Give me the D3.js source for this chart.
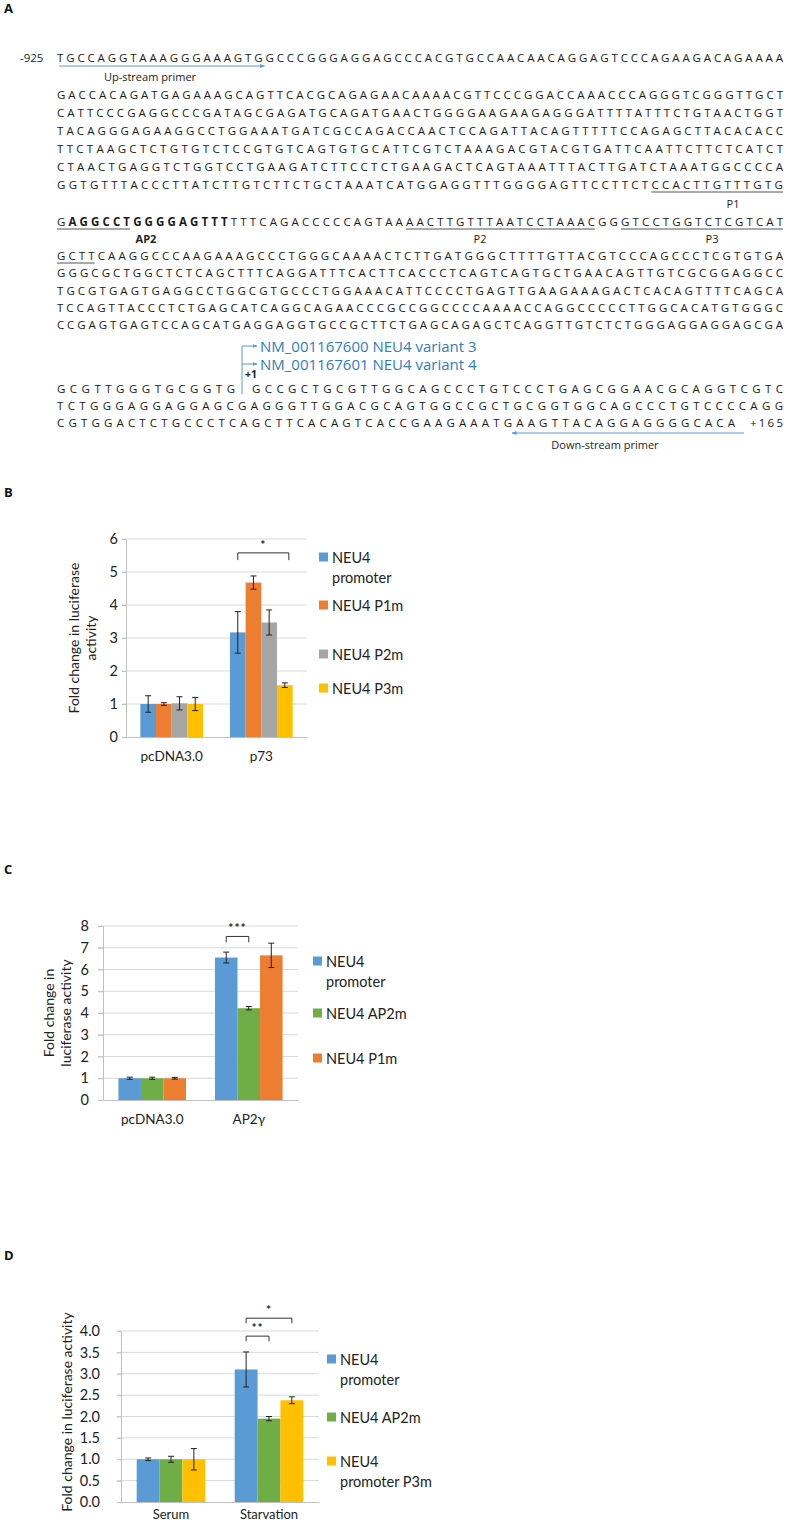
<!DOCTYPE html>
<html><head><meta charset="utf-8">
<script src="https://cdn.jsdelivr.net/npm/d3@7"></script>
<style>body{margin:0;background:#fff}svg{display:block}</style>
</head><body>
<svg id="fig" width="791" height="1527"></svg>
<script>
// ---------------- DATA ----------------
const seqLines = [
  "TGCCAGGTAAAGGGAAAGTGGCCCGGGAGGAGCCCACGTGCCAACAACAGGAGTCCCAGAAGACAGAAAA",
  "GACCACAGATGAGAAAGCAGTTCACGCAGAGAACAAAACGTTCCCGGACCAAACCCAGGGTCGGGTTGCT",
  "CATTCCCGAGGCCCGATAGCGAGATGCAGATGAACTGGGGAAGAAGAGGGATTTTATTTCTGTAACTGGT",
  "TACAGGGAGAAGGCCTGGAAATGATCGCCAGACCAACTCCAGATTACAGTTTTTCCAGAGCTTACACACC",
  "TTCTAAGCTCTGTGTCTCCGTGTCAGTGTGCATTCGTCTAAAGACGTACGTGATTCAATTCTTCTCATCT",
  "CTAACTGAGGTCTGGTCCTGAAGATCTTCCTCTGAAGACTCAGTAAATTTACTTGATCTAAATGGCCCCA",
  "GGTGTTTACCCTTATCTTGTCTTCTGCTAAATCATGGAGGTTTGGGGAGTTCCTTCTCCACTTGTTTGTG",
  "GAGGCCTGGGGAGTTTTTTCAGACCCCCAGTAAAACTTGTTTAATCCTAAACGGGTCCTGGTCTCGTCAT",
  "GCTTCAAGGCCCAAGAAAGCCCTGGGCAAAACTCTTGATGGGCTTTTGTTACGTCCCAGCCCTCGTGTGA",
  "GGGCGCTGGCTCTCAGCTTTCAGGATTTCACTTCACCCTCAGTCAGTGCTGAACAGTTGTCGCGGAGGCC",
  "TGCGTGAGTGAGGCCTGGCGTGCCCTGGAAACATTCCCCTGAGTTGAAGAAAGACTCACAGTTTTCAGCA",
  "TCCAGTTACCCTCTGAGCATCAGGCAGAACCCGCCGGCCCCAAAACCAGGCCCCCTTGGCACATGTGGGC",
  "CCGAGTGAGTCCAGCATGAGGAGGTGCCGCTTCTGAGCAGAGCTCAGGTTGTCTCTGGGAGGAGGAGCGA"
];
const seqTSSLeft = "GCGTTGGGTGCGGTG";
const seqTSSRight = "GCCGCTGCGTTGGCAGCCCTGTCCCTGAGCGGAACGCAGGTCGTC";
const seqLine15 = "TCTGGGAGGAGGAGCGAGGGTTGGACGCAGTGGCCGCTGCGGTGGCAGCCCTGTCCCCAGG";
const seqLine16 = "CGTGGACTCTGCCCTCAGCTTCACAGTCACCGAAGAAATGAAGTTACAGGAGGGGCACA";
const seqStartLabel = "-925", seqEndLabel = "+165";
const transcripts = ["NM_001167600 NEU4 variant 3", "NM_001167601 NEU4 variant 4"];

const bCategories = ["pcDNA3.0", "p73"];
const bSeries = ["NEU4 promoter", "NEU4 P1m", "NEU4 P2m", "NEU4 P3m"];
const bValues = [[1.00, 1.00, 1.02, 1.00], [3.17, 4.68, 3.47, 1.57]];
const bErrors = [[0.25, 0.04, 0.20, 0.20], [0.63, 0.20, 0.38, 0.07]];
const bTicks = [0, 1, 2, 3, 4, 5, 6];

const cCategories = ["pcDNA3.0", "AP2γ"];
const cSeries = ["NEU4 promoter", "NEU4 AP2m", "NEU4 P1m"];
const cValues = [[1.00, 1.00, 1.00], [6.55, 4.22, 6.65]];
const cErrors = [[0.05, 0.05, 0.04], [0.25, 0.08, 0.56]];
const cTicks = [0, 1, 2, 3, 4, 5, 6, 7, 8];

const dCategories = ["Serum", "Starvation"];
const dSeries = ["NEU4 promoter", "NEU4 AP2m", "NEU4 promoter P3m"];
const dValues = [[1.00, 1.00, 1.00], [3.10, 1.95, 2.38]];
const dErrors = [[0.03, 0.07, 0.25], [0.41, 0.05, 0.08]];
const dTicks = [0, 0.5, 1, 1.5, 2, 2.5, 3, 3.5, 4];

// ---------------- DRAW ----------------
const svg = d3.select("#fig");
const seqFont = "'Open Sans', sans-serif";
const chartFont = "Lato, 'Open Sans', sans-serif";
const BLUE = "#5B9BD5", ORANGE = "#ED7D31", GRAY = "#A5A5A5", YELLOW = "#FFC000", GREEN = "#70AD47";
const ARROW = "#5b9bd5";
const SEQ_FS = 11.5;

const defs = svg.append("defs");
defs.append("marker").attr("id", "ah").attr("viewBox", "0 0 10 10").attr("refX", 9).attr("refY", 5)
  .attr("markerWidth", 5).attr("markerHeight", 5).attr("orient", "auto-start-reverse")
  .append("path").attr("d", "M0,1 L10,5 L0,9 z").attr("fill", ARROW);

function panelLetter(t, x, y) {
  svg.append("text").attr("x", x).attr("y", y).attr("dominant-baseline", "central")
    .attr("font-family", "'Open Sans', sans-serif").attr("font-weight", 700).attr("font-size", 13)
    .attr("fill", "#111").text(t);
}
panelLetter("A", 4, 8);
panelLetter("B", 4, 492);
panelLetter("C", 4, 869);
panelLetter("D", 4, 1255);

// Sequence panel
const X0 = 57, X1 = 783;
const lineY = [57, 94, 112, 130, 148, 166, 184, 221, 255, 272, 290, 307, 324];
function seqText(x, y, len, content) {
  const t = svg.append("text").attr("x", x).attr("y", y).attr("dominant-baseline", "central")
    .attr("font-family", seqFont).attr("font-size", SEQ_FS).attr("fill", "#1a1a1a")
    .attr("textLength", len).attr("lengthAdjust", "spacing");
  if (Array.isArray(content)) content.forEach(s => t.append("tspan").attr("font-weight", s.b ? 700 : 400).text(s.t));
  else t.text(content);
  return t;
}
function span(t, i0, i1) {
  const n = t.node();
  return [n.getStartPositionOfChar(i0).x, n.getEndPositionOfChar(i1).x];
}
function underline(t, i0, i1, y) {
  const [a, b] = span(t, i0, i1);
  svg.append("line").attr("x1", a).attr("x2", b).attr("y1", y).attr("y2", y)
    .attr("stroke", "#555").attr("stroke-width", 1);
  return (a + b) / 2;
}
function smallLabel(txt, x, y, bold) {
  svg.append("text").attr("x", x).attr("y", y).attr("text-anchor", "middle").attr("dominant-baseline", "central")
    .attr("font-family", seqFont).attr("font-size", 11).attr("font-weight", bold ? 700 : 400)
    .attr("fill", "#222").text(txt);
}

svg.append("text").attr("x", 20).attr("y", lineY[0]).attr("dominant-baseline", "central")
  .attr("font-family", seqFont).attr("font-size", SEQ_FS).attr("fill", "#1a1a1a").text(seqStartLabel);

const seqEls = seqLines.map((s, i) => {
  if (i === 7) {
    const segs = [{t: s.slice(0, 1)}, {t: s.slice(1, 16), b: true}, {t: s.slice(16)}];
    return seqText(X0, lineY[i], X1 - X0, segs);
  }
  return seqText(X0, lineY[i], X1 - X0, s);
});

// Up-stream primer arrow
{
  const [a, b] = span(seqEls[0], 0, 19);
  svg.append("line").attr("x1", a + 2).attr("x2", b + 2).attr("y1", 66).attr("y2", 66)
    .attr("stroke", ARROW).attr("stroke-width", 1).attr("marker-end", "url(#ah)");
  smallLabel("Up-stream primer", 150, 76);
}
const ul = 8;
// P1
underline(seqEls[6], 57, 69, lineY[6] + ul);
underline(seqEls[7], 0, 6, lineY[7] + ul);
smallLabel("P1", 733, 203);
// AP2
smallLabel("AP2", 146, 238, true);
// P2
underline(seqEls[7], 33, 51, lineY[7] + ul);
smallLabel("P2", 480, 238);
// P3
underline(seqEls[7], 54, 69, lineY[7] + ul);
underline(seqEls[8], 0, 3, lineY[8] + ul);
smallLabel("P3", 712, 238);

// Transcription start site
const yT1 = 346, yT2 = 364, y14 = 388, y15 = 405, y16 = 422;
seqText(X0, y14, 235 - X0, seqTSSLeft);
seqText(252, y14, X1 - 252, seqTSSRight);
svg.append("line").attr("x1", 242).attr("x2", 242).attr("y1", yT1).attr("y2", 394)
  .attr("stroke", ARROW).attr("stroke-width", 1);
[yT1, yT2].forEach((yy, i) => {
  svg.append("line").attr("x1", 242).attr("x2", 257).attr("y1", yy).attr("y2", yy)
    .attr("stroke", ARROW).attr("stroke-width", 1).attr("marker-end", "url(#ah)");
  svg.append("text").attr("x", 260).attr("y", yy).attr("dominant-baseline", "central")
    .attr("font-family", seqFont).attr("font-size", 15).attr("fill", "#2f7dc0").text(transcripts[i]);
});
svg.append("text").attr("x", 245).attr("y", 374).attr("dominant-baseline", "central")
  .attr("font-family", seqFont).attr("font-size", 10.5).attr("font-weight", 700).attr("fill", "#222").text("+1");
seqText(X0, y15, X1 - X0, seqLine15);
seqText(X0, y16, 735 - X0, seqLine16);
svg.append("text").attr("x", 750).attr("y", y16).attr("dominant-baseline", "central")
  .attr("font-family", seqFont).attr("font-size", SEQ_FS).attr("fill", "#1a1a1a")
  .attr("textLength", 33).attr("lengthAdjust", "spacing").text(seqEndLabel);
// Down-stream primer arrow
svg.append("line").attr("x1", 744).attr("x2", 512).attr("y1", 433).attr("y2", 433)
  .attr("stroke", ARROW).attr("stroke-width", 1).attr("marker-end", "url(#ah)");
smallLabel("Down-stream primer", 605, 444);

// ---------------- Bar charts ----------------
function barChart(cfg) {
  const g = svg.append("g").attr("font-family", chartFont);
  const x0 = d3.scaleBand().domain(cfg.categories).range([cfg.left, cfg.right])
    .paddingInner(0.3).paddingOuter(0.16);
  const x1 = d3.scaleBand().domain(d3.range(cfg.series.length)).range([0, x0.bandwidth()]);
  const y = d3.scaleLinear().domain([0, cfg.max]).range([cfg.y0, cfg.yTop]);

  g.append("g").selectAll("line").data(cfg.ticks.filter(t => t > 0)).join("line")
    .attr("x1", cfg.left - cfg.tickLen).attr("x2", cfg.right)
    .attr("y1", d => y(d)).attr("y2", d => y(d))
    .attr("stroke", "#d9d9d9").attr("stroke-width", 1);

  const ya = g.append("g").attr("transform", `translate(${cfg.left},0)`)
    .call(d3.axisLeft(y).tickValues(cfg.ticks).tickFormat(cfg.fmt).tickSize(cfg.tickLen).tickSizeOuter(0).tickPadding(cfg.tickPad));
  ya.select(".domain").attr("stroke", "#bfbfbf");
  ya.selectAll(".tick line").attr("stroke", "#bfbfbf");
  ya.selectAll(".tick text").attr("font-family", chartFont).attr("font-size", cfg.tickFont).attr("fill", "#222");

  const flat = [];
  cfg.categories.forEach((c, ci) => cfg.series.forEach((s, si) =>
    flat.push({c, si, v: cfg.values[ci][si], e: cfg.errors[ci][si]})));
  g.append("g").selectAll("rect").data(flat).join("rect")
    .attr("x", d => x0(d.c) + x1(d.si)).attr("width", x1.bandwidth())
    .attr("y", d => y(d.v)).attr("height", d => y(0) - y(d.v))
    .attr("fill", d => cfg.colors[d.si]);

  const xa = g.append("g").attr("transform", `translate(0,${cfg.y0})`)
    .call(d3.axisBottom(x0).tickSize(0).tickPadding(cfg.xPad));
  xa.select(".domain").attr("stroke", "#bfbfbf");
  xa.selectAll(".tick text").attr("font-family", chartFont).attr("font-size", cfg.xFont).attr("fill", "#222");

  const cx = d => x0(d.c) + x1(d.si) + x1.bandwidth() / 2;
  const eb = g.append("g").attr("stroke", "#222").attr("stroke-width", 1);
  eb.selectAll(".v").data(flat).join("line").attr("class", "v")
    .attr("x1", cx).attr("x2", cx).attr("y1", d => y(d.v - d.e)).attr("y2", d => y(d.v + d.e));
  eb.selectAll(".t").data(flat).join("line").attr("class", "t")
    .attr("x1", d => cx(d) - 3).attr("x2", d => cx(d) + 3).attr("y1", d => y(d.v + d.e)).attr("y2", d => y(d.v + d.e));
  eb.selectAll(".b").data(flat).join("line").attr("class", "b")
    .attr("x1", d => cx(d) - 3).attr("x2", d => cx(d) + 3).attr("y1", d => y(d.v - d.e)).attr("y2", d => y(d.v - d.e));

  cfg.brackets.forEach(b => {
    const xa1 = x0(b.cat) + x1(b.from) + x1.bandwidth() / 2;
    const xa2 = x0(b.cat) + x1(b.to) + x1.bandwidth() / 2 + (b.dx || 0);
    g.append("path").attr("d", `M${xa1},${y(b.drop)}V${y(b.top)}H${xa2}V${y(b.drop)}`)
      .attr("fill", "none").attr("stroke", "#333").attr("stroke-width", 1);
    g.append("text").attr("x", (xa1 + xa2) / 2).attr("y", y(b.top) - 4).attr("text-anchor", "middle")
      .attr("font-size", 12).attr("font-weight", 700).attr("fill", "#222").attr("letter-spacing", 1).text(b.label);
  });

  cfg.legend.forEach(L => {
    g.append("rect").attr("x", cfg.legX).attr("y", L.y - 4.5).attr("width", 9).attr("height", 9)
      .attr("fill", cfg.colors[L.si]);
    L.lines.forEach((ln, k) => g.append("text").attr("x", cfg.legX + 13).attr("y", L.y + k * 20)
      .attr("dominant-baseline", "central").attr("font-size", cfg.legFont).attr("fill", "#222").text(ln));
  });

  cfg.ytitle.forEach(t => g.append("text").attr("transform", `translate(${t.x},${cfg.ytitleY}) rotate(-90)`)
    .attr("text-anchor", "middle").attr("dominant-baseline", "central")
    .attr("font-size", cfg.titleFont).attr("fill", "#222").text(t.t));
}

barChart({
  categories: bCategories, series: bSeries, values: bValues, errors: bErrors, ticks: bTicks,
  colors: [BLUE, ORANGE, GRAY, YELLOW], max: 6, fmt: d3.format("d"),
  left: 126, right: 307, y0: 737, yTop: 539, tickLen: 4, tickPad: 4, tickFont: 14.5, xFont: 13.5, xPad: 14,
  brackets: [{cat: "p73", from: 0, to: 3, top: 5.58, drop: 5.36, label: "*", dx: 4}],
  legX: 319, legFont: 14.5,
  legend: [{si: 0, y: 557, lines: ["NEU4", "promoter"]}, {si: 1, y: 605, lines: ["NEU4 P1m"]},
           {si: 2, y: 654, lines: ["NEU4 P2m"]}, {si: 3, y: 688, lines: ["NEU4 P3m"]}],
  ytitle: [{x: 73, t: "Fold change in luciferase"}, {x: 90, t: "activity"}], ytitleY: 638, titleFont: 14
});

barChart({
  categories: cCategories, series: cSeries, values: cValues, errors: cErrors, ticks: cTicks,
  colors: [BLUE, GREEN, ORANGE], max: 8, fmt: d3.format("d"),
  left: 103, right: 298, y0: 1100, yTop: 926, tickLen: 5, tickPad: 9, tickFont: 14.5, xFont: 13.5, xPad: 14,
  brackets: [{cat: "AP2γ", from: 0, to: 1, top: 7.52, drop: 7.25, label: "***"}],
  legX: 313, legFont: 14.5,
  legend: [{si: 0, y: 961, lines: ["NEU4", "promoter"]}, {si: 1, y: 1013, lines: ["NEU4 AP2m"]},
           {si: 2, y: 1058, lines: ["NEU4 P1m"]}],
  ytitle: [{x: 48, t: "Fold change in"}, {x: 65, t: "luciferase activity"}], ytitleY: 1013, titleFont: 14
});

barChart({
  categories: dCategories, series: dSeries, values: dValues, errors: dErrors, ticks: dTicks,
  colors: [BLUE, GREEN, YELLOW], max: 4, fmt: d3.format(".1f"),
  left: 121, right: 319, y0: 1502, yTop: 1331, tickLen: 4, tickPad: 17, tickFont: 14.5, xFont: 13, xPad: 8,
  brackets: [{cat: "Starvation", from: 0, to: 2, top: 4.30, drop: 4.18, label: "*"},
             {cat: "Starvation", from: 0, to: 1, top: 3.88, drop: 3.76, label: "**"}],
  legX: 327, legFont: 14.5,
  legend: [{si: 0, y: 1359, lines: ["NEU4", "promoter"]}, {si: 1, y: 1417, lines: ["NEU4 AP2m"]},
           {si: 2, y: 1461, lines: ["NEU4", "promoter P3m"]}],
  ytitle: [{x: 66, t: "Fold change in luciferase activity"}], ytitleY: 1412, titleFont: 14
});
</script>
</body></html>
